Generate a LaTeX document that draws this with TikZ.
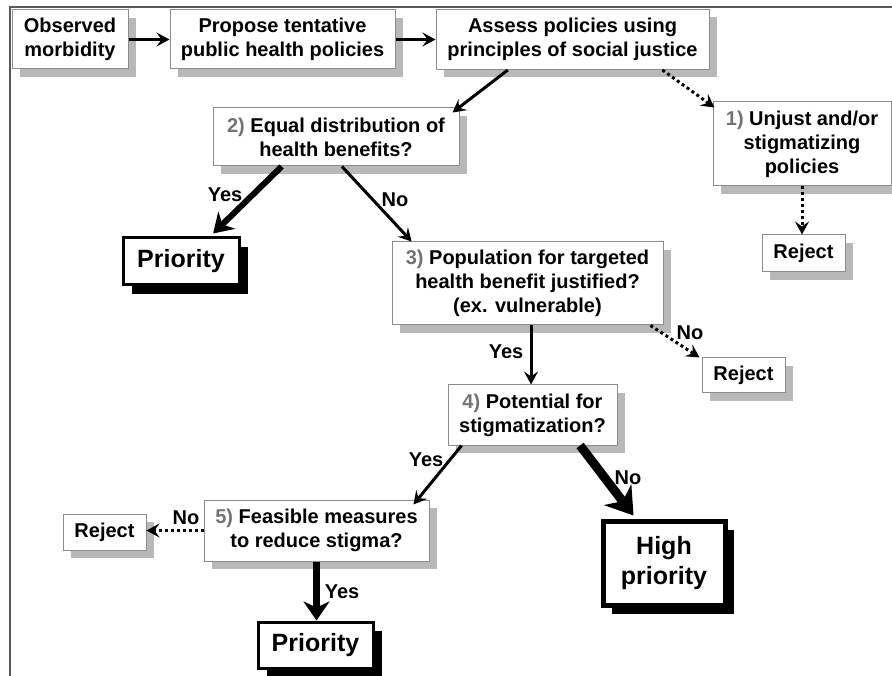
\documentclass[tikz,border=0pt]{standalone}
\usepackage{fontspec}
\setmainfont{Liberation Sans}
\usetikzlibrary{arrows.meta,shadows,calc}
\definecolor{numgray}{gray}{0.45}
\definecolor{shadowgray}{gray}{0.72}
\definecolor{boxline}{gray}{0.55}
\definecolor{framegray}{gray}{0.35}
\begin{document}
\begin{tikzpicture}[x=1pt,y=-1pt,
  box/.style={draw=boxline, line width=1pt, fill=white, inner sep=0pt, align=center,
    font=\fontsize{20}{24}\selectfont\bfseries,
    drop shadow={shadow xshift=8pt, shadow yshift=-8pt, fill=shadowgray, opacity=1}},
  prio/.style={draw=black, line width=3pt, fill=white, inner sep=0pt, align=center,
    font=\fontsize{25}{30}\selectfont\bfseries,
    drop shadow={shadow xshift=9pt, shadow yshift=-9pt, fill=black, opacity=1}},
  lbl/.style={inner sep=0pt, font=\fontsize{20}{24}\selectfont\bfseries},
  arr/.style={line width=3pt, -{Stealth[length=13pt,width=14pt,inset=5pt]}},
  dotarr/.style={line width=3pt, dash pattern=on 3pt off 3pt, -{Stealth[length=13pt,width=14pt,inset=5pt]}},
]
\useasboundingbox (0,0) rectangle (892,676);
% frame
\draw[framegray, line width=2pt] (10,676) -- (10,7) -- (892,7);

% boxes
\node[box, minimum width=116pt, minimum height=59pt] (obs) at (70,39.5) {Observed\\morbidity};
\node[box, minimum width=225pt, minimum height=59pt] (prop) at (282.5,39.5) {Propose tentative\\public health policies};
\node[box, minimum width=273pt, minimum height=60pt] (assess) at (572.5,39.5) {Assess policies using\\principles of social justice};
\node[box, minimum width=246pt, minimum height=58pt] (eq) at (336,137) {{\color{numgray}2)} Equal distribution of\\health benefits?};
\node[box, minimum width=178pt, minimum height=84pt] (unj) at (802,144) {{\color{numgray}1)} Unjust and/or\\stigmatizing\\policies};
\node[box, minimum width=83pt, minimum height=37pt] (rej1) at (803.5,253.5) {Reject};
\node[prio, minimum width=116pt, minimum height=47pt] (pri1) at (181,261.5) {Priority};
\node[box, minimum width=271pt, minimum height=83pt] (pop) at (527.5,283.5) {{\color{numgray}3)} Population for targeted\\health benefit justified?\\(ex. vulnerable)};
\node[box, minimum width=83pt, minimum height=35pt] (rej2) at (743.5,375.5) {Reject};
\node[box, minimum width=169pt, minimum height=60pt] (pot) at (532.5,415) {{\color{numgray}4)} Potential for\\stigmatization?};
\node[prio, line width=5pt, minimum width=122pt, minimum height=84pt] (high) at (664,563) {High\\priority};
\node[box, minimum width=225pt, minimum height=61pt] (feas) at (316.5,530.5) {{\color{numgray}5)} Feasible measures\\to reduce stigma?};
\node[box, minimum width=83pt, minimum height=36pt] (rej3) at (104.5,532) {Reject};
\node[prio, minimum width=115pt, minimum height=46pt] (pri2) at (315.5,645) {Priority};

% connectors
\draw[arr] (obs.east) -- (prop.west);
\draw[arr] (prop.east) -- (assess.west);
\draw[arr] ($(assess.south west)!0.264!(assess.south east)$) -- ($(eq.north east)+(-7,5)$);
\draw[dotarr] ($(assess.south west)!0.828!(assess.south east)$) -- ($(unj.north west)+(2,6)$);
\draw[dotarr] (unj.south) -- (unj.south |- rej1.north);
\draw[line width=6pt, -{Stealth[length=19pt,width=24pt,inset=6pt]}]
  ($(eq.south west)!0.28!(eq.south east)$) -- ($(pri1.north west)!0.77!(pri1.north east)+(0,-3)$);
\draw[arr] ($(eq.south west)!0.524!(eq.south east)$) -- ($(pop.north west)!0.074!(pop.north east)$);
\draw[dotarr] ($(pop.south west)!0.952!(pop.south east)$) -- ($(rej2.north west)+(-2,0)$);
\draw[arr] ($(pop.south west)!0.513!(pop.south east)$) coordinate (p3s) -- (p3s |- pot.north);
\draw[arr] ($(pot.south west)!0.083!(pot.south east)$) -- ($(feas.north east)+(-16,5)$);
\draw[line width=9pt, -{Stealth[length=26pt,width=34pt,inset=8pt]}]
  ($(pot.south west)!0.78!(pot.south east)$) -- ($(high.north west)!0.26!(high.north east)+(0,-3)$);
\draw[dotarr] (feas.west) -- (rej3.east |- feas.west);
\draw[line width=6.5pt, -{Stealth[length=19pt,width=26pt,inset=6pt]}]
  (feas.south) -- (feas.south |- pri2.north);

% labels
\node[lbl] (l1) at (225,195) {Yes};
\node[lbl] (l2) at (395,200) {No};
\node[lbl] (l3) at (690,333) {No};
\node[lbl] (l4) at (506,352) {Yes};
\node[lbl] (l5) at (426,460) {Yes};
\node[lbl] (l6) at (628,478) {No};
\node[lbl] (l7) at (186,518) {No};
\node[lbl] (l8) at (342,592) {Yes};
\end{tikzpicture}
\end{document}
